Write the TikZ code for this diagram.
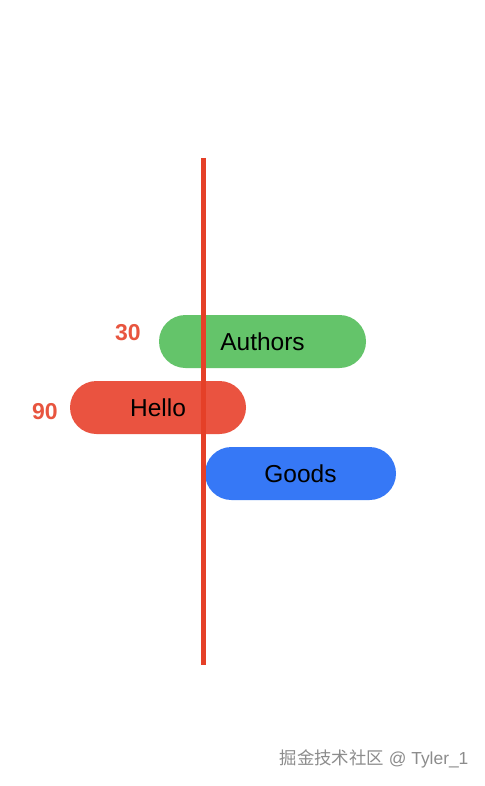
\documentclass[tikz,border=0pt]{standalone}
\usepackage{fontspec}
\setmainfont{Liberation Sans}
\newfontfamily\cjk{Noto Sans CJK SC}
\definecolor{pillgreen}{RGB}{100,196,106}
\definecolor{pillred}{RGB}{234,83,64}
\definecolor{pillblue}{RGB}{54,120,246}
\definecolor{linered}{RGB}{229,64,40}
\definecolor{labelred}{RGB}{232,85,63}
\definecolor{wmgray}{RGB}{140,140,140}
\begin{document}
\begin{tikzpicture}[x=1pt,y=-1pt,
  pill/.style={rectangle, rounded corners=26.5pt, minimum height=53pt, inner sep=0pt,
    font=\fontsize{24.5}{26}\selectfont, text=black},
  numlabel/.style={font=\fontsize{23}{25}\selectfont\bfseries, text=labelred, inner sep=0pt}]
\useasboundingbox (0,0) rectangle (484,786);
\fill[white] (0,0) rectangle (484,786);
\node[pill, fill=pillgreen, minimum width=207pt] (authors) at (262.5,341.5) {\raisebox{-1.5pt}{Authors}};
\node[pill, fill=pillred, minimum width=176pt] (hello) at (158,407.5) {\raisebox{-1.5pt}{Hello}};
\node[pill, fill=pillblue, minimum width=191pt] (goods) at (300.5,473.5) {\raisebox{-1.5pt}{Goods}};
\node[numlabel] (n30) at (128,333) {30};
\node[numlabel] (n90) at (45,412) {90};
\coordinate (top) at (203.5,158);
\coordinate (bot) at (203.5,665);
\draw[linered, line width=5pt] (top) -- (bot);
\node[text=wmgray, font=\fontsize{17.4}{19}\selectfont, inner sep=0pt] (wm) at (374,759) {{\cjk 掘金技术社区} @ Tyler\_1};
\end{tikzpicture}
\end{document}
